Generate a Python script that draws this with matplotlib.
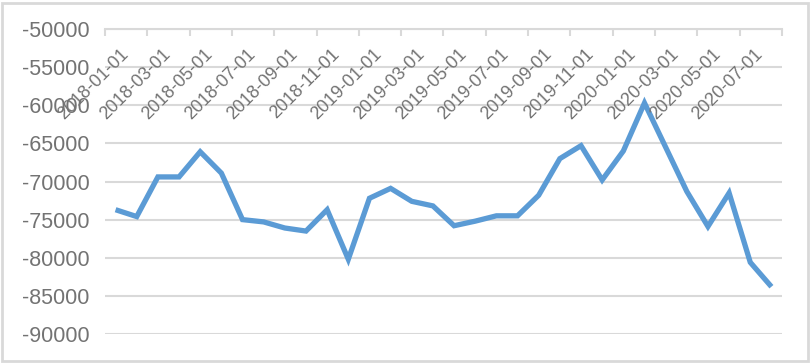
import matplotlib.pyplot as plt
from matplotlib.patches import Rectangle
import pandas as pd

# monthly values, 2018-01 .. 2020-08
dates = pd.date_range('2018-01-01', '2020-08-01', freq='MS').strftime('%Y-%m-%d').tolist()
values = [-73700, -74600, -69400, -69400, -66100, -68900, -75000, -75300,
          -76100, -76500, -73700, -80200, -72200, -70900, -72600, -73200,
          -75800, -75200, -74500, -74500, -71800, -67000, -65300, -69800,
          -66000, -59700, -65500, -71300, -75900, -71500, -80600, -83800]
y_ticks = list(range(-90000, -49999, 5000))

grey = '#d9d9d9'
text_grey = '#737373'
plt.rcParams['font.family'] = ['Liberation Sans', 'DejaVu Sans']

fig = plt.figure(figsize=(8.12, 3.64), dpi=100)
ax = fig.add_axes([105/812, 1 - 334/364, (782 - 105)/812, (334 - 29)/364])

x = list(range(len(dates)))
ax.plot(x, values, color='#5b9bd5', linewidth=3.8, solid_joinstyle='miter',
        solid_capstyle='butt', zorder=3)

ax.set_xlim(-0.5, len(dates) - 0.5)
ax.set_ylim(-90000, -50000)
ax.set_yticks(y_ticks)
ax.set_yticklabels([str(v) for v in y_ticks])
ax.yaxis.grid(True, color=grey, linewidth=1.5)
ax.set_axisbelow(True)
ax.tick_params(axis='y', length=0, pad=11, labelsize=15.5, labelcolor=text_grey)

for side in ['left', 'right', 'bottom']:
    ax.spines[side].set_visible(False)
ax.spines['top'].set_color(grey)
ax.spines['top'].set_linewidth(1.5)

# category tick marks at the top, pointing into the plot
ax.xaxis.tick_top()
ax.set_xticks([i - 0.5 for i in range(0, len(dates) + 1, 2)])
ax.set_xticklabels([])
ax.tick_params(axis='x', direction='in', length=5, width=1.5, color=grey)

# date labels every second month, hanging under the top axis
for i in range(0, len(dates), 2):
    ax.annotate(dates[i], xy=(i, 1), xycoords=('data', 'axes fraction'),
                xytext=(3, -12), textcoords='offset points',
                rotation=45, ha='right', va='top', rotation_mode='anchor',
                fontsize=13, color=text_grey)

fig.patches.append(Rectangle((2/812, 3/364), 806/812, 358/364, transform=fig.transFigure,
                             fill=False, edgecolor=grey, linewidth=2))

fig.savefig('out.png', dpi=100)
